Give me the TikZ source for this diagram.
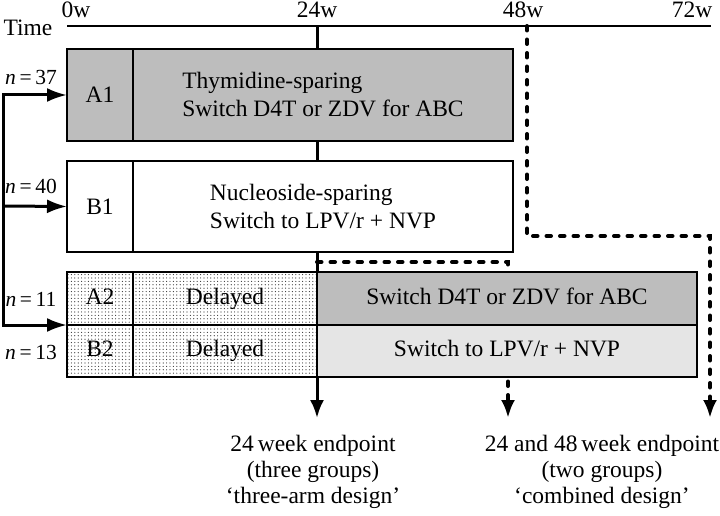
\documentclass[tikz,border=0pt]{standalone}
\usepackage{fontspec}
\setmainfont{Liberation Serif}
\usetikzlibrary{arrows.meta,patterns}

\definecolor{armgrey}{gray}{0.74}
\definecolor{lightgrey}{gray}{0.90}

\pgfdeclarepatternformonly{sparsedots}{\pgfqpoint{-1pt}{-1pt}}{\pgfqpoint{1pt}{1pt}}{\pgfqpoint{3.4pt}{3.4pt}}%
  {\pgfpathcircle{\pgfqpoint{0pt}{0pt}}{0.6pt}\pgfusepath{fill}}

\begin{document}
\begin{tikzpicture}[x=1pt,y=-1pt,
    every node/.style={font=\fontsize{23.5}{28}\selectfont},
    box/.style={draw,line width=1.3pt,inner sep=0pt,outer sep=0pt},
    row/.style={text height=16pt,text depth=5pt},
    wait/.style={box,row,pattern=sparsedots,pattern color=black!80},
    nlab/.style={font=\fontsize{21.5}{24}\selectfont},
    flow/.style={-{Latex[length=20pt,width=14pt]},line width=3pt},
    later/.style={line width=4pt,line cap=round,dash pattern=on 4.5pt off 9pt},
    >={Latex[length=18pt,width=14pt]}]

    \useasboundingbox (0,0) rectangle (720,516);

    % time axis
    \node (time) at (28,28) {Time};
    \node (w0) at (76,10) {0w};
    \node (w24) at (317,10) {24w};
    \node (w48) at (523,10) {48w};
    \node (w72) at (692,10) {72w};
    \coordinate (t0) at (67,26);
    \coordinate (t24) at (317,26);
    \coordinate (t48) at (527,26);
    \coordinate (tend) at (711,26);
    \draw[line width=1.3pt] (t0) -- (tend);

    % endpoints
    \coordinate (tip24) at (317,418);
    \coordinate (tip48) at (508,418);
    \coordinate (tip72) at (710,418);
    \coordinate (bend48) at (527,236);
    \coordinate (bend72) at (710,236);
    \coordinate (late24) at (317,262);
    \coordinate (late48) at (508,262);

    \draw[line width=3pt,->] (t24) -- (tip24);
    \draw[later,->] (late24) -- (late48) -- (tip48);

    % arms
    \node[box,fill=armgrey,minimum width=66pt,minimum height=92pt] (a1) at (100,95) {A1};
    \node[box,fill=armgrey,minimum width=380pt,minimum height=92pt,align=left] (a1arm) at (323,95) {Thymidine-sparing\\Switch D4T or ZDV for ABC};
    \node[box,fill=white,minimum width=66pt,minimum height=91pt] (b1) at (100,206.5) {B1};
    \node[box,fill=white,minimum width=380pt,minimum height=91pt,align=left] (b1arm) at (323,206.5) {Nucleoside-sparing\\Switch to LPV/r + NVP};

    \node[wait,minimum width=66pt,minimum height=53pt] (a2) at (100,298.5) {A2};
    \node[wait,minimum width=184pt,minimum height=53pt] (a2wait) at (225,298.5) {Delayed};
    \node[box,row,fill=armgrey,minimum width=380pt,minimum height=53pt] (a2arm) at (507,298.5) {Switch D4T or ZDV for ABC};
    \node[wait,minimum width=66pt,minimum height=52pt] (b2) at (100,351) {B2};
    \node[wait,minimum width=184pt,minimum height=52pt] (b2wait) at (225,351) {Delayed};
    \node[box,row,fill=lightgrey,minimum width=380pt,minimum height=52pt] (b2arm) at (507,351) {Switch to LPV/r + NVP};

    \draw[later,->] (t48) -- (bend48) -- (bend72) -- (tip72);

    % randomisation
    \coordinate (split) at (3,206);
    \draw[flow] (split) |- (a1.west);
    \draw[flow] (split) -- (b1.west);
    \draw[flow] (split) |- (a2.south west);
    \node[nlab] (n37) at (31,77) {\textit{n}\,=\,37};
    \node[nlab] (n40) at (31,186) {\textit{n}\,=\,40};
    \node[nlab] (n11) at (31,299) {\textit{n}\,=\,11};
    \node[nlab] (n13) at (31,352) {\textit{n}\,=\,13};

    \node[align=center,font=\fontsize{23.5}{26}\selectfont] (end24) at (313,472) {24\,week endpoint\\(three groups)\\`three-arm design'};
    \node[align=center,font=\fontsize{23.5}{26}\selectfont] (end48) at (602,472) {24 and 48\,week endpoint\\(two groups)\\`combined design'};

\end{tikzpicture}
\end{document}
